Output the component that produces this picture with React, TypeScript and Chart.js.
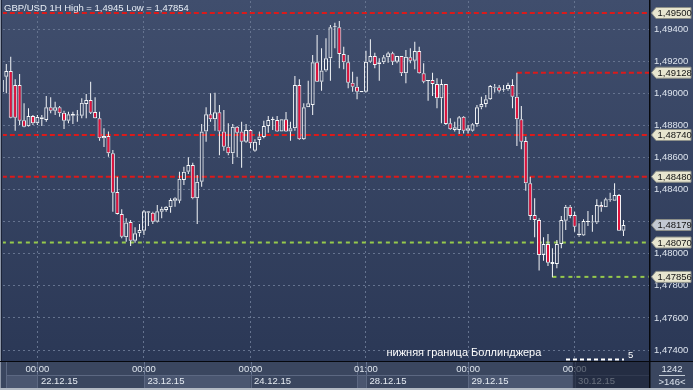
import React, { useEffect, useRef } from 'react';
import { Chart, registerables } from 'chart.js';

Chart.register(...registerables);

// ---- data (GBP/USD, 1H candles) ----
const OPEN = [
  1.49083, 1.49103, 1.49139, 1.49051, 1.49051, 1.48832, 1.48794, 1.48858, 1.48813, 1.48850,
  1.48833, 1.48913, 1.48891, 1.48913, 1.48879, 1.48829, 1.48860, 1.48862, 1.48860, 1.48933,
  1.48958, 1.48883, 1.48844, 1.48719, 1.48734, 1.48626, 1.48385, 1.48248, 1.48103, 1.48198,
  1.48081, 1.48128, 1.48144, 1.48256, 1.48256, 1.48200, 1.48262, 1.48273, 1.48290, 1.48331,
  1.48331, 1.48460, 1.48511, 1.48553, 1.48346, 1.48449, 1.48761, 1.48869, 1.48838, 1.48881,
  1.48761, 1.48667, 1.48626, 1.48792, 1.48761, 1.48698, 1.48771, 1.48642, 1.48709, 1.48727,
  1.48796, 1.48833, 1.48833, 1.48761, 1.48838, 1.48761, 1.48782, 1.49051, 1.48713, 1.48913,
  1.48927, 1.49193, 1.49072, 1.49141, 1.49218, 1.49411, 1.49411, 1.49245, 1.49193, 1.49066,
  1.49041, 1.49014, 1.49010, 1.49197, 1.49232, 1.49180, 1.49193, 1.49224, 1.49249, 1.49197,
  1.49232, 1.49124, 1.49224, 1.49203, 1.49263, 1.49124, 1.49082, 1.49083, 1.49058, 1.48969,
  1.49058, 1.48813, 1.48771, 1.48771, 1.48854, 1.48767, 1.48767, 1.48808, 1.48913, 1.48933,
  1.48962, 1.49040, 1.49037, 1.49018, 1.49025, 1.49051, 1.48979, 1.48838, 1.48703, 1.48439,
  1.48242, 1.48210, 1.47992, 1.48061, 1.47949, 1.47936, 1.48061, 1.48206, 1.48293, 1.48242,
  1.48115, 1.48113, 1.48198, 1.48200, 1.48194, 1.48304, 1.48290, 1.48336, 1.48331, 1.48366,
  1.48144,
];
const HIGH = [
  1.49114, 1.49182, 1.49228, 1.49087, 1.49120, 1.48937, 1.48906, 1.48865, 1.48865, 1.48865,
  1.48983, 1.48975, 1.48947, 1.48921, 1.48891, 1.48885, 1.48885, 1.48896, 1.48969, 1.48995,
  1.49072, 1.48975, 1.48885, 1.48782, 1.48761, 1.48647, 1.48480, 1.48277, 1.48221, 1.48210,
  1.48165, 1.48186, 1.48273, 1.48267, 1.48262, 1.48304, 1.48293, 1.48298, 1.48346, 1.48352,
  1.48511, 1.48542, 1.48601, 1.48567, 1.48491, 1.48809, 1.48913, 1.49000, 1.49003, 1.48927,
  1.48896, 1.48813, 1.48809, 1.48796, 1.48823, 1.48809, 1.48775, 1.48713, 1.48761, 1.48829,
  1.48858, 1.48854, 1.48858, 1.48838, 1.48883, 1.48823, 1.49108, 1.49087, 1.48937, 1.49078,
  1.49238, 1.49363, 1.49280, 1.49342, 1.49425, 1.49440, 1.49450, 1.49290, 1.49238, 1.49134,
  1.49103, 1.49014, 1.49265, 1.49336, 1.49253, 1.49218, 1.49238, 1.49259, 1.49259, 1.49232,
  1.49232, 1.49270, 1.49280, 1.49321, 1.49290, 1.49187, 1.49083, 1.49128, 1.49093, 1.49087,
  1.49058, 1.48844, 1.48823, 1.48858, 1.48858, 1.48802, 1.48813, 1.48927, 1.48979, 1.48989,
  1.49051, 1.49058, 1.49051, 1.49051, 1.49066, 1.49087, 1.49128, 1.48921, 1.48729, 1.48480,
  1.48346, 1.48221, 1.48103, 1.48123, 1.48034, 1.48086, 1.48235, 1.48304, 1.48304, 1.48262,
  1.48190, 1.48215, 1.48266, 1.48242, 1.48339, 1.48324, 1.48349, 1.48380, 1.48439, 1.48372,
  1.48210,
];
const LOW = [
  1.48979, 1.49000, 1.48844, 1.48767, 1.48802, 1.48788, 1.48792, 1.48802, 1.48802, 1.48796,
  1.48823, 1.48875, 1.48865, 1.48854, 1.48777, 1.48813, 1.48808, 1.48823, 1.48844, 1.48844,
  1.48871, 1.48842, 1.48704, 1.48665, 1.48605, 1.48262, 1.48245, 1.48096, 1.48075, 1.48048,
  1.48069, 1.48106, 1.48117, 1.48173, 1.48186, 1.48194, 1.48221, 1.48262, 1.48256, 1.48293,
  1.48315, 1.48429, 1.48497, 1.48340, 1.48186, 1.48418, 1.48698, 1.48823, 1.48767, 1.48613,
  1.48642, 1.48613, 1.48559, 1.48601, 1.48536, 1.48692, 1.48657, 1.48636, 1.48678, 1.48719,
  1.48754, 1.48771, 1.48759, 1.48761, 1.48759, 1.48704, 1.48767, 1.48709, 1.48709, 1.48913,
  1.48865, 1.49070, 1.49016, 1.49134, 1.49078, 1.49280, 1.49156, 1.49149, 1.49031, 1.49010,
  1.48962, 1.49006, 1.49004, 1.49190, 1.49156, 1.49078, 1.49182, 1.49190, 1.49176, 1.49187,
  1.49108, 1.49062, 1.49187, 1.49149, 1.49122, 1.49062, 1.48954, 1.48983, 1.48906, 1.48813,
  1.48802, 1.48771, 1.48761, 1.48746, 1.48750, 1.48750, 1.48761, 1.48792, 1.48900, 1.48913,
  1.48958, 1.49004, 1.49004, 1.49010, 1.49016, 1.48906, 1.48671, 1.48651, 1.48393, 1.48210,
  1.48103, 1.47895, 1.47957, 1.47924, 1.47854, 1.47909, 1.48034, 1.48148, 1.48221, 1.48137,
  1.48106, 1.48111, 1.48173, 1.48137, 1.48186, 1.48262, 1.48290, 1.48324, 1.48331, 1.48142,
  1.48111,
];
const CLOSE = [
  1.49008, 1.49139, 1.48848, 1.48848, 1.48829, 1.48792, 1.48858, 1.48813, 1.48852, 1.48838,
  1.48913, 1.48891, 1.48913, 1.48875, 1.48829, 1.48869, 1.48871, 1.48864, 1.48941, 1.48958,
  1.48879, 1.48844, 1.48719, 1.48734, 1.48626, 1.48380, 1.48248, 1.48106, 1.48194, 1.48081,
  1.48128, 1.48148, 1.48265, 1.48265, 1.48200, 1.48265, 1.48281, 1.48293, 1.48335, 1.48346,
  1.48468, 1.48511, 1.48553, 1.48346, 1.48449, 1.48761, 1.48869, 1.48838, 1.48881, 1.48761,
  1.48667, 1.48626, 1.48792, 1.48754, 1.48698, 1.48771, 1.48688, 1.48698, 1.48730, 1.48796,
  1.48833, 1.48835, 1.48761, 1.48838, 1.48761, 1.48782, 1.49051, 1.48713, 1.48913, 1.48937,
  1.49193, 1.49072, 1.49141, 1.49218, 1.49411, 1.49413, 1.49245, 1.49193, 1.49066, 1.49041,
  1.49010, 1.49006, 1.49197, 1.49232, 1.49176, 1.49193, 1.49224, 1.49249, 1.49197, 1.49232,
  1.49124, 1.49228, 1.49203, 1.49263, 1.49124, 1.49072, 1.49076, 1.49058, 1.48969, 1.49058,
  1.48808, 1.48775, 1.48788, 1.48850, 1.48767, 1.48782, 1.48807, 1.48913, 1.48933, 1.48962,
  1.49045, 1.49035, 1.49016, 1.49022, 1.49051, 1.48979, 1.48838, 1.48698, 1.48439, 1.48235,
  1.48210, 1.47992, 1.48061, 1.47944, 1.47936, 1.48061, 1.48210, 1.48293, 1.48235, 1.48169,
  1.48126, 1.48204, 1.48204, 1.48194, 1.48304, 1.48290, 1.48339, 1.48342, 1.48366, 1.48144,
  1.48179,
];

const Y_TICKS = [1.474, 1.476, 1.478, 1.48, 1.482, 1.484, 1.486, 1.488, 1.49, 1.492, 1.494];
const Y_HIDDEN = [1.482];
const X_GRID = [8, 32, 56, 82, 105, 129];
const X_TIMES = ['00:00', '00:00', '00:00', '01:00', '00:00', '00:00'];
const X_DATES = ['22.12.15', '23.12.15', '24.12.15', '28.12.15', '29.12.15', '30.12.15'];
const DAY_BOUNDS = [1, 8, 32, 56, 80, 82, 105, 129];
const RED_LEVELS = [1.495, 1.49128, 1.4874, 1.4848];
const RED_FROM = [0, 116, 0, 0];
const GREEN_LEVELS = [1.4807, 1.47856];
const GREEN_FROM = [0, 124];
const LAST_PRICE = 1.48179;
const TITLE = 'GBP/USD 1H High = 1,4945 Low = 1,47854';
const INDICATOR_LABEL = 'нижняя граница Боллинджера';
const INDICATOR_PERIOD = '5';
const BARS_TOTAL = '1242';
const BARS_VISIBLE = '>146<';

// ---- layout / style constants ----
const W = 693;
const H = 390;
const X_MIN = 0.2568;
const X_MAX = 145.977;
const Y_MIN = 1.473318;
const Y_MAX = 1.495748;
const OVERLAY_FROM = 128.6;

function hasFont(name: string): boolean {
  const c = document.createElement('canvas').getContext('2d');
  if (!c) return false;
  const s = 'mmmWWW 1,49400 llii';
  c.font = '20px monospace';
  const a = c.measureText(s).width;
  c.font = `20px "${name}", monospace`;
  const b = c.measureText(s).width;
  return Math.abs(a - b) > 0.5;
}

const fmt = (v: number) => v.toFixed(5).replace('.', ',');

export default function App() {
  const ref = useRef<HTMLCanvasElement | null>(null);

  useEffect(() => {
    const canvas = ref.current;
    if (!canvas) return;
    const narrow = hasFont('Liberation Sans Narrow');
    const NF = narrow ? '"Liberation Sans Narrow", "Liberation Sans", sans-serif' : '"Liberation Sans", sans-serif';
    const NS = narrow ? 11 : 9.5;
    const nfont = `${NS}px ${NF}`;

    const idx = OPEN.map((_, i) => i);
    const bodies = idx.map((i) => ({ x: i, y: [OPEN[i], CLOSE[i]] }));
    const upper = idx.map((i) => ({ x: i, y: [Math.max(OPEN[i], CLOSE[i]), HIGH[i]] }));
    const lower = idx.map((i) => ({ x: i, y: [LOW[i], Math.min(OPEN[i], CLOSE[i])] }));
    const bodyFill = idx.map((i) => (CLOSE[i] < OPEN[i] ? '#e2123c' : 'rgba(0,0,0,0)'));

    const level = (v: number, from: number, color: string, dash: number[]) => ({
      type: 'line',
      data: [{ x: from, y: v }, { x: X_MAX, y: v }],
      borderColor: color,
      borderWidth: 2,
      borderDash: dash,
      pointRadius: 0,
      fill: false,
      tension: 0,
      order: 10,
    });

    const bgPlugin = {
      id: 'bg',
      beforeDraw(chart: any) {
        const ctx = chart.ctx;
        const xs = chart.scales.x;
        ctx.save();
        ctx.fillStyle = '#3a465f';
        ctx.fillRect(0, 0, W, H);
        const g = ctx.createLinearGradient(0, 0, 0, 361);
        g.addColorStop(0, '#404e6d');
        g.addColorStop(1, '#2b3856');
        ctx.fillStyle = g;
        ctx.fillRect(0, 0, W, 361);
        // day boxes on time axis
        for (let k = 0; k < DAY_BOUNDS.length; k++) {
          const x0 = xs.getPixelForValue(DAY_BOUNDS[k]);
          const x1 = k + 1 < DAY_BOUNDS.length ? xs.getPixelForValue(DAY_BOUNDS[k + 1]) : 650;
          if (k % 2 === 0) {
            ctx.fillStyle = '#4a5670';
            ctx.fillRect(x0, 375, x1 - x0, 13);
          }
          ctx.fillStyle = '#5c6882';
          ctx.fillRect(Math.round(x0), 362, 1, 26);
          ctx.fillRect(x0, 375, x1 - x0, 1);
        }
        // window borders
        ctx.fillStyle = '#b3bac4';
        ctx.fillRect(0, 388, W, 2);
        ctx.fillStyle = '#8e97a8';
        ctx.fillRect(0, 0, 1, 388);
        ctx.fillStyle = '#1c2438';
        ctx.fillRect(1, 0, 1, 361);
        ctx.restore();
      },
      afterDraw(chart: any) {
        const ctx = chart.ctx;
        const xs = chart.scales.x;
        const ys = chart.scales.y;
        ctx.save();
        // frame separators
        ctx.fillStyle = '#06080d';
        ctx.fillRect(0, 361, W, 1);
        ctx.fillRect(649, 0, 1.5, 388);

        // title
        ctx.font = nfont;
        ctx.textBaseline = 'middle';
        ctx.textAlign = 'left';
        ctx.fillStyle = '#e8eef6';
        ctx.fillText(TITLE, 4, 8);

        // indicator label
        ctx.font = '11px "Liberation Sans", sans-serif';
        ctx.fillStyle = '#ffffff';
        ctx.fillText(INDICATOR_LABEL, 386.5, 353);
        ctx.font = nfont;
        ctx.fillText(INDICATOR_PERIOD, 628, 355);
        ctx.strokeStyle = '#ffffff';
        ctx.lineWidth = 2;
        ctx.setLineDash([4, 3]);
        ctx.beginPath();
        ctx.moveTo(566, 359.5);
        ctx.lineTo(624, 359.5);
        ctx.stroke();
        ctx.setLineDash([]);

        // dates
        ctx.font = nfont;
        ctx.fillStyle = '#e4eaf2';
        for (let k = 0; k < X_GRID.length; k++) {
          const x = xs.getPixelForValue(X_GRID[k]);
          ctx.fillText(X_DATES[k], x + 3.5, 381);
        }
        // dotted grid continuation into axis band
        ctx.strokeStyle = '#6a7896';
        ctx.lineWidth = 1;
        ctx.setLineDash([2, 3]);
        for (let k = 0; k < X_GRID.length; k++) {
          const x = Math.round(xs.getPixelForValue(X_GRID[k])) + 0.5;
          ctx.beginPath();
          ctx.moveTo(x, 362);
          ctx.lineTo(x, 375);
          ctx.stroke();
        }
        ctx.setLineDash([]);

        // dimmed future region
        const ox = xs.getPixelForValue(OVERLAY_FROM);
        ctx.fillStyle = 'rgba(22,30,50,0.62)';
        ctx.fillRect(ox, 362, 649 - ox, 26);

        // bar counters
        ctx.textAlign = 'center';
        ctx.fillStyle = '#dde4ee';
        ctx.fillText(BARS_TOTAL, 672, 369);
        ctx.fillText(BARS_VISIBLE, 672, 382);
        ctx.fillStyle = '#c3cbd6';
        ctx.fillRect(659, 375, 26, 1);

        // price tags
        const tag = (v: number, fill: string) => {
          const y = ys.getPixelForValue(v);
          const hh = 5.5;
          ctx.beginPath();
          ctx.moveTo(651.5, y);
          ctx.lineTo(656, y - hh);
          ctx.lineTo(691, y - hh);
          ctx.lineTo(691, y + hh);
          ctx.lineTo(656, y + hh);
          ctx.closePath();
          ctx.fillStyle = fill;
          ctx.fill();
          ctx.strokeStyle = '#8e918a';
          ctx.lineWidth = 1;
          ctx.stroke();
          ctx.fillStyle = '#141414';
          ctx.textAlign = 'left';
          ctx.font = nfont;
          ctx.fillText(fmt(v), 657.5, y + 0.5);
        };
        RED_LEVELS.forEach((v) => tag(v, '#e7e5cf'));
        GREEN_LEVELS.forEach((v) => tag(v, '#e7e5cf'));
        tag(LAST_PRICE, '#c3c9d3');
        ctx.restore();
      },
    };

    const chart = new Chart(canvas, {
      type: 'bar',
      data: {
        datasets: [
          {
            type: 'bar',
            data: bodies,
            backgroundColor: bodyFill,
            borderColor: '#f4f6f8',
            borderWidth: 1,
            borderSkipped: false,
            barThickness: 4,
            minBarLength: 1,
            grouped: false,
            inflateAmount: 0,
            order: 0,
          },
          {
            type: 'bar',
            data: upper,
            backgroundColor: '#f4f6f8',
            borderWidth: 0,
            barThickness: 1,
            grouped: false,
            inflateAmount: 0,
            order: 1,
          },
          {
            type: 'bar',
            data: lower,
            backgroundColor: '#f4f6f8',
            borderWidth: 0,
            barThickness: 1,
            grouped: false,
            inflateAmount: 0,
            order: 1,
          },
          ...RED_LEVELS.map((v, k) => level(v, RED_FROM[k], '#dc1a1a', [5, 3])),
          ...GREEN_LEVELS.map((v, k) => level(v, GREEN_FROM[k], '#96c94c', [4, 4])),
        ] as any,
      },
      options: {
        animation: false,
        responsive: false,
        maintainAspectRatio: false,
        devicePixelRatio: 1,
        events: [],
        layout: { padding: { left: 3, top: 1, right: 0, bottom: 0 } },
        plugins: { legend: { display: false }, tooltip: { enabled: false }, title: { display: false } },
        scales: {
          x: {
            type: 'linear',
            min: X_MIN,
            max: X_MAX,
            offset: false,
            position: 'bottom',
            grid: { color: '#65738f', lineWidth: 1, drawTicks: false, offset: false },
            border: { display: false, dash: [2, 3] },
            afterBuildTicks: (s: any) => {
              s.ticks = X_GRID.map((v) => ({ value: v }));
            },
            afterFit: (s: any) => {
              s.height = 29;
              s.paddingLeft = 0;
              s.paddingRight = 0;
            },
            ticks: {
              autoSkip: false,
              maxRotation: 0,
              minRotation: 0,
              padding: 3,
              color: '#dfe6ee',
              font: { family: NF, size: NS },
              callback: (_v: any, i: number) => X_TIMES[i],
            },
          },
          y: {
            type: 'linear',
            position: 'right',
            min: Y_MIN,
            max: Y_MAX,
            grid: { color: '#65738f', lineWidth: 1, drawTicks: false },
            border: { display: false, dash: [2, 3] },
            afterBuildTicks: (s: any) => {
              s.ticks = Y_TICKS.map((v) => ({ value: v }));
            },
            afterFit: (s: any) => {
              s.width = 43;
              s.paddingTop = 0;
              s.paddingBottom = 0;
            },
            ticks: {
              padding: 4,
              color: '#dde4ee',
              font: { family: NF, size: NS },
              callback: (v: any) => (Y_HIDDEN.includes(v) ? '' : fmt(Number(v))),
            },
          },
        },
      } as any,
      plugins: [bgPlugin],
    });

    return () => chart.destroy();
  }, []);

  return (
    <div style={{ position: 'fixed', left: 0, top: 0, width: W, height: H, overflow: 'hidden' }}>
      <canvas ref={ref} width={W} height={H} style={{ display: 'block', width: W, height: H }} />
    </div>
  );
}
